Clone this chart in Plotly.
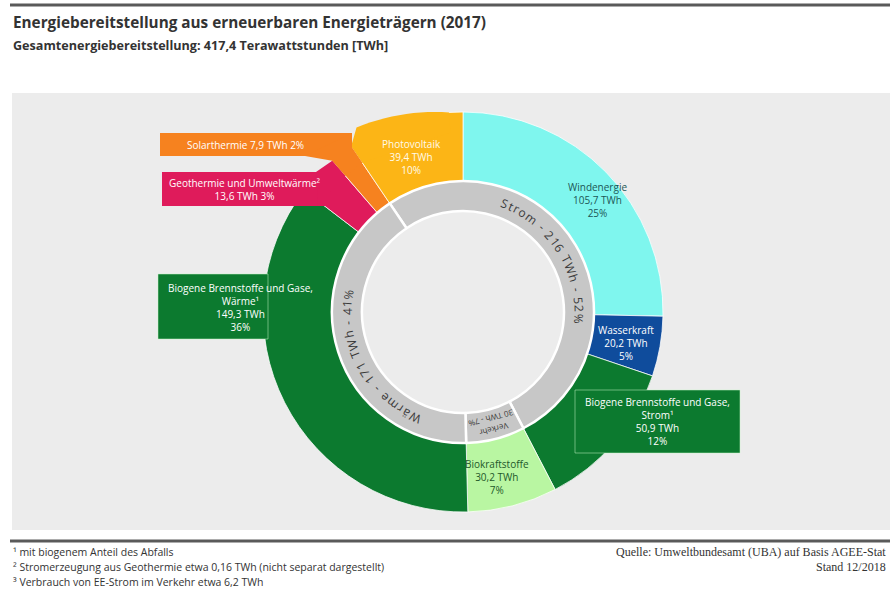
import math
import plotly.graph_objects as go

W, H = 890, 589

# ---- data -------------------------------------------------------------
# outer ring, clockwise from 12 o'clock
sources = ["Windenergie", "Wasserkraft", "Biogene Brennstoffe und Gase, Strom",
           "Biokraftstoffe", "Biogene Brennstoffe und Gase, Wärme",
           "Geothermie und Umweltwärme", "Solarthermie", "Photovoltaik"]
source_twh = [105.7, 20.2, 50.9, 30.2, 149.3, 13.6, 7.9, 39.4]
source_share = ["25%", "5%", "12%", "7%", "36%", "3%", "2%", "10%"]
source_sector = ["Strom", "Strom", "Strom", "Verkehr", "Wärme", "Wärme", "Wärme", "Strom"]

# inner ring
sectors = ["Strom", "Verkehr", "Wärme"]
total_twh = 417.4

footnotes = ["¹ mit biogenem Anteil des Abfalls",
             "² Stromerzeugung aus Geothermie etwa 0,16 TWh (nicht separat dargestellt)",
             "³ Verbrauch von EE-Strom im Verkehr etwa 6,2 TWh"]

# ---- styling ----------------------------------------------------------
source_colors = ["#7ff6ee", "#0f4c9c", "#0c7a2f", "#b9f6a2",
                 "#0c7a2f", "#df1b5b", "#f6821f", "#fcb516"]
label_colors = ["#1d5656", "white", "white", "#22582a",
                "white", "white", "white", "#fffbea"]
ring_grey = "#c7c7c7"
panel_grey = "#ececec"

CX, CY, R = 463, 312, 200          # ring centre / outer radius in px
R_MID, R_IN = 131, 101             # sector ring outer / inner radius


def paper(x, y):
    return x / W, 1 - y / H


def pt(theta, r):
    t = math.radians(theta)
    return CX + r * math.sin(t), CY - r * math.cos(t)


def poly(points):
    s = []
    for i, (x, y) in enumerate(points):
        X, Y = paper(x, y)
        s.append(("M" if i == 0 else "L") + f"{X:.5f},{Y:.5f}")
    return " ".join(s) + " Z"


def de(v):
    return f"{v:.1f}".replace(".", ",")


# slice angles (degrees, clockwise from top)
tot = sum(source_twh)
bounds = []
acc = 0.0
for v in source_twh:
    bounds.append((acc / tot * 360, (acc + v) / tot * 360))
    acc += v
ang = dict(zip(sources, bounds))

sector_twh = [sum(v for v, s in zip(source_twh, source_sector) if s == sec) for sec in sectors]
pv_start = ang["Photovoltaik"][0]

fig = go.Figure()

# outer ring
fig.add_trace(go.Pie(
    values=source_twh, labels=sources, sort=False, direction="clockwise", rotation=0,
    hole=R_MID / R, textinfo="none", hoverinfo="skip", showlegend=False,
    marker=dict(colors=source_colors, line=dict(color="rgba(255,255,255,0.75)", width=1)),
    domain=dict(x=[(CX - R) / W, (CX + R) / W], y=[1 - (CY + R) / H, 1 - (CY - R) / H]),
))

# inner sector ring, starting where the first "Strom" source (Photovoltaik) begins
fig.add_trace(go.Pie(
    values=sector_twh, labels=sectors, sort=False, direction="clockwise",
    rotation=pv_start - 360, hole=R_IN / R_MID, textinfo="none", hoverinfo="skip",
    showlegend=False,
    marker=dict(colors=[ring_grey] * 3, line=dict(color="white", width=2.5)),
    domain=dict(x=[(CX - R_MID) / W, (CX + R_MID) / W],
                y=[1 - (CY + R_MID) / H, 1 - (CY - R_MID) / H]),
))

shapes = []
# panel background and rules
x0, y0 = paper(12, 93)
x1, y1 = paper(890, 530)
shapes.append(dict(type="rect", xref="paper", yref="paper", x0=x0, y0=y1, x1=x1, y1=y0,
                   fillcolor=panel_grey, line=dict(width=0), layer="below"))
for yy in (5, 541):
    a, b = paper(10, yy)
    c, _ = paper(890, yy)
    shapes.append(dict(type="line", xref="paper", yref="paper", x0=a, y0=b, x1=c, y1=b,
                       line=dict(color="#5a5a5a", width=3), layer="above"))


def box(x0_, y0_, x1_, y1_, color, outline=None):
    a, b = paper(x0_, y0_)
    c, d = paper(x1_, y1_)
    shapes.append(dict(type="rect", xref="paper", yref="paper", x0=a, y0=d, x1=c, y1=b,
                       fillcolor=color,
                       line=dict(color=outline or color, width=1 if outline else 0),
                       layer="above"))


def fill(points, color):
    shapes.append(dict(type="path", xref="paper", yref="paper", path=poly(points),
                       fillcolor=color, line=dict(width=0), layer="above"))


# Photovoltaik wedge is widened towards its upper left corner
s, e = ang["Photovoltaik"]
ext = [pt(s, R)]
for k in range(0, 14):
    th = s + 4 + k * 2
    ext.append(pt(th, R + 13 * (1 - k / 13)))
ext += [pt(e - 4, 0.9 * R), pt(s, 0.9 * R)]
fill(ext, source_colors[7])

# Geothermie call-out
s, e = ang["Geothermie und Umweltwärme"]
box(162, 172, 330, 206, source_colors[5])
fill([(316, 172), pt(e, R), pt(e, 0.9 * R), pt(s, 0.9 * R), (318, 206)], source_colors[5])

# Solarthermie call-out
s, e = ang["Solarthermie"]
box(160, 133, 352, 156, source_colors[6])
fill([(352, 133), pt(e, R), pt(e, 0.9 * R), pt(s, 0.9 * R), pt(s, R), (305, 156)],
     source_colors[6])

# biogenic call-outs
box(158, 274, 268, 339, source_colors[4], outline="rgba(200,250,200,0.5)")
box(575, 390, 740, 453, source_colors[2], outline="rgba(200,250,200,0.5)")

annotations = []


def text(x, y, t, size=10, color="#333", xanchor="center", yanchor="middle",
         family="Open Sans", angle=0):
    X, Y = paper(x, y)
    annotations.append(dict(x=X, y=Y, xref="paper", yref="paper", text=t, showarrow=False,
                            xanchor=xanchor, yanchor=yanchor, textangle=angle,
                            font=dict(size=size, color=color, family=family)))


# title block
text(11, 22, "<b>Energiebereitstellung aus erneuerbaren Energieträgern (2017)</b>",
     size=15.3, color="#333", xanchor="left")
text(11, 46, f"<b>Gesamtenergiebereitstellung: {de(total_twh)} Terawattstunden [TWh]</b>",
     size=12.6, color="#333", xanchor="left")

# source labels
names = ["Windenergie", "Wasserkraft", "Biogene Brennstoffe und Gase,<br>Strom¹",
         "Biokraftstoffe", "Biogene Brennstoffe und Gase,<br>Wärme¹",
         "Geothermie und Umweltwärme²", "Solarthermie", "Photovoltaik"]
label_pos = [(597, 200), (626, 343), (657, 421), (497, 477),
             (240, 307), (245, 190), (245, 145), (411, 157)]
for i, name in enumerate(names):
    v, sh = de(source_twh[i]), source_share[i]
    if sources[i] == "Solarthermie":
        t = f"{name} {v} TWh {sh}"
    elif sources[i].startswith("Geothermie"):
        t = f"{name}<br>{v} TWh {sh}"
    else:
        t = f"{name}<br>{v} TWh<br>{sh}"
    text(label_pos[i][0], label_pos[i][1], t, size=10, color=label_colors[i])

# curved sector captions in the inner ring
EM = {" ": 0.26, "-": 0.32, "S": 0.54, "t": 0.35, "r": 0.41, "o": 0.61, "m": 0.93,
      "T": 0.54, "W": 0.93, "h": 0.61, "%": 0.82, "ä": 0.56, "e": 0.56}
RING_FS, SPACING, R_TXT = 12, 1.4, 116


def arc_text(t, centre):
    widths = [EM.get(ch, 0.57) * RING_FS + SPACING for ch in t]
    span = sum(widths)
    start = centre - math.degrees(span / 2 / R_TXT)
    run = 0.0
    for ch, w in zip(t, widths):
        th = start + math.degrees((run + w / 2) / R_TXT)
        run += w
        if ch == " ":
            continue
        x, y = pt(th, R_TXT)
        text(x, y, ch, size=RING_FS, color="#3a3a3a", angle=th)


def sector_caption(i):
    return f"{sectors[i]} - {round(sector_twh[i])} TWh - {round(sector_twh[i] / total_twh * 100)}%"


arc_text(sector_caption(0), 57.5)
arc_text(sector_caption(2), 241.5)

vs, ve = ang["Biokraftstoffe"]
vm = (vs + ve) / 2
x, y = pt(vm, 122)
text(x, y, sectors[1], size=8, color="#3a3a3a", angle=vm)
x, y = pt(vm, 110)
text(x, y, f"{round(sector_twh[1])} TWh - {round(sector_twh[1] / total_twh * 100)}%",
     size=8, color="#3a3a3a", angle=vm)

# footer
for k, fn in enumerate(footnotes):
    text(11, 552 + 15 * k, fn, size=10.5, color="#333", xanchor="left")
text(888, 552, "Quelle: Umweltbundesamt (UBA) auf Basis AGEE-Stat", size=12,
     color="#333", xanchor="right", family="Liberation Serif")
text(888, 567, "Stand 12/2018", size=12, color="#333", xanchor="right",
     family="Liberation Serif")

fig.update_layout(
    width=W, height=H, margin=dict(l=0, r=0, t=0, b=0),
    paper_bgcolor="white", plot_bgcolor="white",
    shapes=shapes, annotations=annotations, showlegend=False,
)

fig.write_html("out.html")
